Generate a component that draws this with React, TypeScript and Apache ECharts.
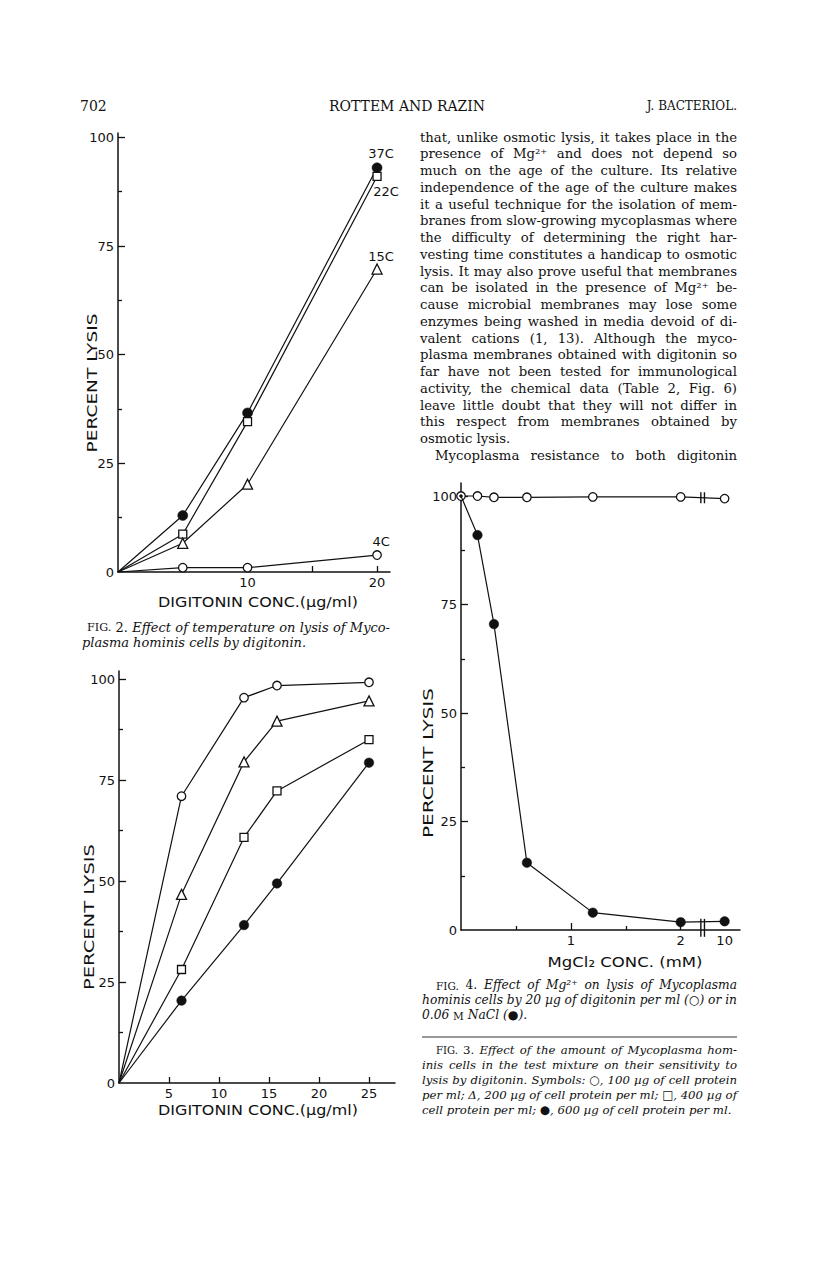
import React, { useEffect, useRef } from 'react';
import * as echarts from 'echarts';

const SERIF = '"DejaVu Serif", serif';
const SANS = '"DejaVu Sans", sans-serif';
const INK = '#111';

// ---------------- Fig. 2 : effect of temperature ----------------
const FIG2_CONC = [0, 5, 10, 20];
const FIG2_LYSIS_37C = [0, 13, 36.6, 93];
const FIG2_LYSIS_22C = [0, 8.7, 34.6, 91];
const FIG2_LYSIS_15C = [0, 6.6, 20.2, 69.7];
const FIG2_LYSIS_4C = [0, 1, 1, 3.9];
const FIG2_TEMPS = ['37C', '22C', '15C', '4C'];
const FIG2_X_TICKS = [5, 10, 15, 20];
const FIG2_X_LABELS = [10, 20];

// ---------------- Fig. 3 : amount of cells ----------------
const FIG3_CONC = [0, 6.25, 12.5, 15.8, 25];
const FIG3_LYSIS_100 = [0, 71, 95.4, 98.4, 99.2];
const FIG3_LYSIS_200 = [0, 46.7, 79.5, 89.6, 94.6];
const FIG3_LYSIS_400 = [0, 28.1, 60.8, 72.3, 85];
const FIG3_LYSIS_600 = [0, 20.4, 39.1, 49.4, 79.3];
const FIG3_X_TICKS = [5, 10, 15, 20, 25];

// ---------------- Fig. 4 : effect of Mg2+ ----------------
const FIG4_MGCL2 = [0, 0.15, 0.3, 0.6, 1.2, 2, 10];
const FIG4_LYSIS_DIGITONIN = [100, 100, 99.7, 99.7, 99.8, 99.8, 99.4];
const FIG4_LYSIS_NACL = [100, 91, 70.5, 15.5, 4, 1.8, 2];
const FIG4_X_LABELS = [1, 2, 10];
const FIG4_X_MAJOR_TICKS = [1, 2];
const FIG4_X_MINOR_TICKS = [0.5, 1.5];

// shared y ticks
const Y_LABELS = [0, 25, 50, 75, 100];
const Y_MAJOR_TICKS = [25, 50, 75, 100];
const Y_MINOR_TICKS = [12.5, 37.5, 62.5, 87.5];

// ---------------- texts ----------------
const HEADER_PAGE = '702';
const HEADER_AUTHORS = 'ROTTEM AND RAZIN';
const HEADER_JOURNAL = 'J. BACTERIOL.';
const Y_TITLE = 'PERCENT LYSIS';
const X_TITLE_FIG2 = 'DIGITONIN CONC.(µg/ml)';
const X_TITLE_FIG3 = 'DIGITONIN CONC.(µg/ml)';
const X_TITLE_FIG4 = 'MgCl₂ CONC. (mM)';

const BODY_LINES = [
  'that, unlike osmotic lysis, it takes place in the',
  'presence of Mg²⁺ and does not depend so',
  'much on the age of the culture. Its relative',
  'independence of the age of the culture makes',
  'it a useful technique for the isolation of mem-',
  'branes from slow-growing mycoplasmas where',
  'the difficulty of determining the right har-',
  'vesting time constitutes a handicap to osmotic',
  'lysis. It may also prove useful that membranes',
  'can be isolated in the presence of Mg²⁺ be-',
  'cause microbial membranes may lose some',
  'enzymes being washed in media devoid of di-',
  'valent cations (1, 13). Although the myco-',
  'plasma membranes obtained with digitonin so',
  'far have not been tested for immunological',
  'activity, the chemical data (Table 2, Fig. 6)',
  'leave little doubt that they will not differ in',
  'this respect from membranes obtained by',
  'osmotic lysis.',
  'Mycoplasma resistance to both digitonin',
];
const BODY_RAGGED = [18];
const BODY_INDENTED = [19];

const CAPTION_FIG2 = [
  '~FIG.~ |2.| Effect of temperature on lysis of Myco-',
  'plasma hominis cells by digitonin.',
];
const CAPTION_FIG4 = [
  '~FIG.~ |4.| Effect of Mg²⁺ on lysis of Mycoplasma',
  'hominis cells by 20 µg of digitonin per ml (○) or in',
  '0.06 ~M~ NaCl (●).',
];
const CAPTION_FIG3 = [
  '~FIG.~ |3.| Effect of the amount of Mycoplasma hom-',
  'inis cells in the test mixture on their sensitivity to',
  'lysis by digitonin. Symbols: ○, 100 µg of cell protein',
  'per ml; Δ, 200 µg of cell protein per ml; □, 400 µg of',
  'cell protein per ml; ●, 600 µg of cell protein per ml.',
];

// ---------------- layout (pixels) ----------------
const GRID_FIG2 = { left: 118, top: 133, width: 272, height: 439 };
const GRID_FIG3 = { left: 119, top: 671, width: 276, height: 412 };
const GRID_FIG4 = { left: 461, top: 483, width: 279, height: 447 };
const FIG2_X_MAX = 21, FIG2_Y_MAX = 101;
const FIG3_X_MAX = 27.6, FIG3_Y_MAX = 102;
const FIG4_X_MAX = 2.54, FIG4_Y_MAX = 103;
// broken MgCl2 axis: linear up to 2 mM, then a break, then 10 mM
const MG_LAST_LINEAR = 2;
const MG_BREAK_POS = 2.2;
const MG_AFTER_BREAK_POS = 2.4;
const mgPos = (v: number) => (v > MG_LAST_LINEAR ? MG_AFTER_BREAK_POS : v);
const BREAK_MARK_LEN = [11, 18];
const FIG2_LABEL_OFFSETS = [[4, -14], [9, 15], [4, -13], [4, -14]];

type Seg = { t: string; sc: boolean; up: boolean };

function parseWord(w: string): Seg[] {
  const segs: Seg[] = [];
  let sc = false, up = false, cur = '';
  const flush = () => { if (cur) { segs.push({ t: cur, sc, up }); cur = ''; } };
  for (const ch of w) {
    if (ch === '~') { flush(); sc = !sc; }
    else if (ch === '|') { flush(); up = !up; }
    else cur += ch;
  }
  flush();
  return segs;
}

function buildOption() {
  const ctx = document.createElement('canvas').getContext('2d')!;
  const measure = (t: string, font: string) => { ctx.font = font; return ctx.measureText(t).width; };

  const textEl = (text: string, x: number, y: number, font: string, align = 'left', extra: any = {}) => ({
    type: 'text', x, y, silent: true, ...extra,
    style: { text, font, fill: INK, align, verticalAlign: 'middle', textAlign: align, textVerticalAlign: 'middle' },
  });

  const segFont = (s: Seg, size: number, italic: boolean) => {
    const sz = s.sc ? size * 0.86 : size;
    const it = italic && !s.up && !s.sc;
    return { font: `${it ? 'italic ' : ''}${sz.toFixed(2)}px ${SERIF}`, size: sz };
  };

  const lineMetrics = (m: string, size: number, italic: boolean) => {
    const words = m.split(' ').filter(Boolean).map(parseWord);
    const meas = words.map((w) => w.map((s) => { const f = segFont(s, size, italic); return { ...s, ...f, w: measure(s.t, f.font) }; }));
    const ww = meas.map((w) => w.reduce((a, s) => a + s.w, 0));
    const tot = ww.reduce((a, b) => a + b, 0);
    const space = measure(' ', `${italic ? 'italic ' : ''}${size}px ${SERIF}`);
    return { meas, tot, space, n: words.length };
  };

  const out: any[] = [];

  const layoutBlock = (lines: string[], x0: number, x1: number, indent: number[], ragged: number[], top: number, lead: number, italic: boolean, cap: number) => {
    let size = cap;
    lines.forEach((m, i) => {
      const lm = lineMetrics(m, 100, italic);
      const nat = lm.tot + lm.space * (lm.n - 1);
      const avail = x1 - (x0 + indent[i]);
      size = Math.min(size, (100 * avail) / nat);
    });
    lines.forEach((m, i) => {
      const lm = lineMetrics(m, size, italic);
      const sx = x0 + indent[i];
      const justify = !ragged.includes(i) && lm.n > 1;
      const gap = justify ? (x1 - sx - lm.tot) / (lm.n - 1) : lm.space;
      const cy = top + i * lead;
      const base = cy + 0.3 * size;
      let x = sx;
      lm.meas.forEach((w) => {
        w.forEach((s) => { out.push(textEl(s.t, x, base - 0.3 * s.size, s.font)); x += s.w; });
        x += gap;
      });
    });
  };

  // header
  out.push(textEl(HEADER_PAGE, 80, 106, `14px ${SERIF}`, 'left'));
  out.push(textEl(HEADER_AUTHORS, 407, 106, `14px ${SERIF}`, 'center'));
  out.push(textEl(HEADER_JOURNAL, 737, 106, `12px ${SERIF}`, 'right'));

  // body column
  layoutBlock(BODY_LINES, 420, 737, BODY_LINES.map((_, i) => (BODY_INDENTED.includes(i) ? 15 : 0)), BODY_RAGGED, 137, 16.75, false, 14.5);

  // captions
  layoutBlock(CAPTION_FIG2, 82, 390, [5, 0], [1], 627, 15, true, 13);
  layoutBlock(CAPTION_FIG4, 422, 737, [14, 0, 0], [2], 985, 15, true, 13);
  layoutBlock(CAPTION_FIG3, 422, 737, [14, 0, 0, 0, 0], [4], 1050, 15, true, 13);

  // rule between Fig. 4 and Fig. 3 captions
  out.push({ type: 'line', silent: true, shape: { x1: 422, y1: 1037, x2: 737, y2: 1037 }, style: { stroke: '#333', lineWidth: 1 } });

  // axis titles (stretched to the lettering's span)
  const title = (text: string, cx: number, cy: number, size: number, target: number, vertical: boolean) => {
    const font = `${size}px ${SANS}`;
    const w = measure(text, font);
    return textEl(text, cx, cy, font, 'center', { rotation: vertical ? Math.PI / 2 : 0, scaleX: target / w });
  };
  out.push(title(Y_TITLE, 92, 383, 13.5, 139, true));
  out.push(title(Y_TITLE, 89, 917, 13.5, 146, true));
  out.push(title(Y_TITLE, 428, 763, 13.5, 150, true));
  out.push(title(X_TITLE_FIG2, 258, 602, 14, 200, false));
  out.push(title(X_TITLE_FIG3, 258, 1110, 14, 200, false));
  out.push(title(X_TITLE_FIG4, 625, 962, 14.5, 155, false));

  // ---------------- axes ----------------
  const lineStyle = { color: INK, width: 1.5 };
  const tickStyle = { color: INK, width: 1.3 };
  const labelStyle = { color: INK, fontFamily: SANS, fontSize: 13, margin: 4 };
  const xAxis = (grid: number, max: number, ticks: number[], tickLen: number, labels: number[] | null, formatter?: any, showLine = true) => ({
    type: 'value', gridIndex: grid, position: 'bottom', min: 0, max,
    splitLine: { show: false },
    axisLine: { show: showLine, onZero: false, lineStyle },
    axisTick: { show: true, inside: true, length: tickLen, lineStyle: tickStyle, customValues: ticks },
    axisLabel: labels ? { show: true, ...labelStyle, customValues: labels, formatter: formatter || ((v: number) => String(v)) } : { show: false },
  });
  const yAxis = (grid: number, max: number, minor: boolean) => ({
    type: 'value', gridIndex: grid, position: 'left', offset: 0, min: 0, max,
    splitLine: { show: false },
    axisLine: { show: !minor, onZero: false, lineStyle },
    axisTick: { show: true, inside: true, length: minor ? 4 : 7, lineStyle: tickStyle, customValues: minor ? Y_MINOR_TICKS : Y_MAJOR_TICKS },
    axisLabel: minor ? { show: false } : { show: true, ...labelStyle, customValues: Y_LABELS, formatter: (v: number) => String(v) },
  });

  const fig4Formatter = (v: number) => {
    const i = FIG4_X_LABELS.findIndex((m) => Math.abs(mgPos(m) - v) < 1e-6);
    return i >= 0 ? String(FIG4_X_LABELS[i]) : '';
  };

  // ---------------- series ----------------
  const lineSeries = (xs: number[], ys: number[], xi: number, yi: number, symbol: string, size: number, filled: boolean, opts: any = {}) => ({
    type: 'line', xAxisIndex: xi, yAxisIndex: yi,
    data: xs.map((x, i) => {
      const item: any = { value: [x, ys[i]] };
      if (i === 0 && opts.noOrigin) item.symbol = 'none';
      if (i === 0 && opts.originSize) item.symbolSize = opts.originSize;
      if (i === xs.length - 1 && opts.label) {
        item.label = {
          show: true, formatter: opts.label, position: 'inside', offset: opts.labelOffset,
          color: INK, fontFamily: SANS, fontSize: 13,
        };
      }
      return item;
    }),
    symbol, symbolSize: size, showSymbol: true, showAllSymbol: true,
    lineStyle: { color: INK, width: 1.2 },
    itemStyle: { color: filled ? INK : '#fff', borderColor: INK, borderWidth: filled ? 0.5 : 1.3 },
    emphasis: { disabled: true }, silent: true, clip: false, z: opts.z ?? 2,
  });

  const fig2Sets = [FIG2_LYSIS_37C, FIG2_LYSIS_22C, FIG2_LYSIS_15C, FIG2_LYSIS_4C];
  const fig2Sym: [string, number, boolean][] = [['circle', 10, true], ['rect', 8, false], ['triangle', 10, false], ['circle', 8.5, false]];
  const fig2Series = fig2Sets.map((ys, k) => lineSeries(FIG2_CONC, ys, 0, 0, fig2Sym[k][0], fig2Sym[k][1], fig2Sym[k][2], {
    noOrigin: true, label: FIG2_TEMPS[k], labelOffset: FIG2_LABEL_OFFSETS[k],
  }));

  const fig3Sets = [FIG3_LYSIS_100, FIG3_LYSIS_200, FIG3_LYSIS_400, FIG3_LYSIS_600];
  const fig3Sym: [string, number, boolean][] = [['circle', 8.5, false], ['triangle', 10, false], ['rect', 8, false], ['circle', 9.5, true]];
  const fig3Series = fig3Sets.map((ys, k) => lineSeries(FIG3_CONC, ys, 1, 2, fig3Sym[k][0], fig3Sym[k][1], fig3Sym[k][2], { noOrigin: true }));

  const mgX = FIG4_MGCL2.map(mgPos);
  const n = FIG4_MGCL2.length;
  const yAtBreak = FIG4_LYSIS_DIGITONIN[n - 2] + (FIG4_LYSIS_DIGITONIN[n - 1] - FIG4_LYSIS_DIGITONIN[n - 2]) * (MG_BREAK_POS - mgX[n - 2]) / (mgX[n - 1] - mgX[n - 2]);
  const breakMarks = [[MG_BREAK_POS, yAtBreak], [MG_BREAK_POS, 0.5]];

  const fig4Series = [
    lineSeries(mgX, FIG4_LYSIS_DIGITONIN, 2, 4, 'circle', 8.5, false, { z: 2 }),
    lineSeries(mgX, FIG4_LYSIS_NACL, 2, 4, 'circle', 9.5, true, { z: 3, originSize: 3 }),
    {
      type: 'custom', xAxisIndex: 2, yAxisIndex: 4, silent: true, z: 5, clip: false,
      data: breakMarks,
      renderItem: (params: any, api: any) => {
        const p = api.coord([api.value(0), api.value(1)]);
        const h = BREAK_MARK_LEN[params.dataIndex] / 2;
        return {
          type: 'group',
          children: [-1.8, 1.8].map((dx) => ({
            type: 'line', shape: { x1: p[0] + dx, y1: p[1] - h, x2: p[0] + dx, y2: p[1] + h },
            style: { stroke: INK, lineWidth: 1.4 },
          })),
        };
      },
    },
  ];

  return {
    animation: false,
    backgroundColor: '#fff',
    grid: [GRID_FIG2, GRID_FIG3, GRID_FIG4].map((g) => ({ ...g, containLabel: false, outerBoundsMode: 'none' })),
    xAxis: [
      xAxis(0, FIG2_X_MAX, FIG2_X_TICKS, 6, FIG2_X_LABELS),
      xAxis(1, FIG3_X_MAX, FIG3_X_TICKS, 6, FIG3_X_TICKS),
      xAxis(2, FIG4_X_MAX, FIG4_X_MAJOR_TICKS, 7, FIG4_X_LABELS.map(mgPos), fig4Formatter),
      xAxis(2, FIG4_X_MAX, FIG4_X_MINOR_TICKS, 4, null, undefined, false),
    ],
    yAxis: [
      yAxis(0, FIG2_Y_MAX, false), yAxis(0, FIG2_Y_MAX, true),
      yAxis(1, FIG3_Y_MAX, false), yAxis(1, FIG3_Y_MAX, true),
      yAxis(2, FIG4_Y_MAX, false), yAxis(2, FIG4_Y_MAX, true),
    ],
    series: [...fig2Series, ...fig3Series, ...fig4Series],
    graphic: { elements: out },
  };
}

export default function App() {
  const ref = useRef<HTMLDivElement>(null);
  useEffect(() => {
    const el = ref.current;
    if (!el) return;
    const chart = echarts.init(el, null, { renderer: 'svg' });
    chart.setOption(buildOption() as any);
    return () => chart.dispose();
  }, []);
  return <div ref={ref} style={{ position: 'absolute', left: 0, top: 0, width: 816, height: 1286, background: '#fff' }} />;
}
